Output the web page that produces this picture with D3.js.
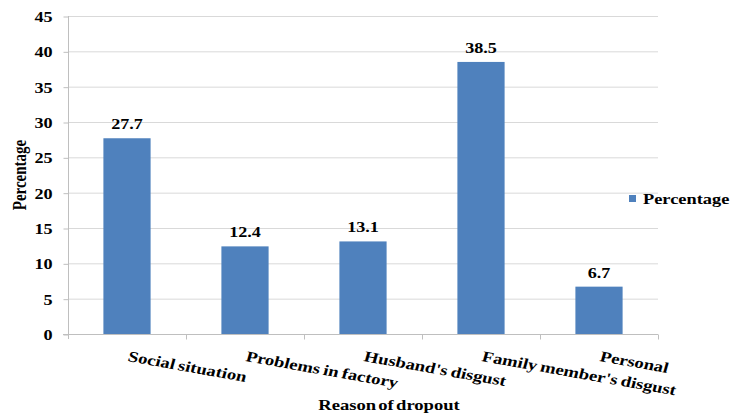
<!DOCTYPE html>
<html>
<head>
<meta charset="utf-8">
<script src="https://cdn.jsdelivr.net/npm/d3@7"></script>
<style>
  html, body { margin: 0; padding: 0; background: #fff; }
  svg { display: block; }
</style>
</head>
<body>
<svg id="chart" width="731" height="414"></svg>
<script>
// Reasons for dropout and their share (%)
const categories = ["Social situation", "Problems in factory", "Husband's disgust", "Family member's disgust", "Personal"];
const percentages = [27.7, 12.4, 13.1, 38.5, 6.7];
const yTicks = [0, 5, 10, 15, 20, 25, 30, 35, 40, 45];
const seriesName = "Percentage";
const xTitle = "Reason of dropout";
const yTitle = "Percentage";

const W = 731, H = 414;
const margin = { left: 68, right: 73, top: 16, bottom: 80 };
const plotW = W - margin.left - margin.right;
const plotH = H - margin.top - margin.bottom;
const barColor = "#4F81BD";
const gridColor = "#D9D9D9";
const axisColor = "#BFBFBF";
const FONT = '"Liberation Serif", "Times New Roman", Tinos, serif';
const SX = 1.25; // wide glyph look

const svg = d3.select("#chart");

function styleText(sel, size) {
  sel.style("font-family", FONT).style("font-weight", "bold")
     .style("font-size", size + "px").style("fill", "#000");
}

const xBand = d3.scaleBand().domain(categories).range([0, plotW]);
const barW = xBand.bandwidth() * 0.4;
const y = d3.scaleLinear().domain([0, 45]).range([plotH, 0]);

const g = svg.append("g").attr("transform", `translate(${margin.left},${margin.top})`);

// Horizontal gridlines
g.append("g").selectAll("line").data(yTicks.filter(d => d > 0)).join("line")
  .attr("x1", 0).attr("x2", plotW)
  .attr("y1", d => y(d) + 0.5).attr("y2", d => y(d) + 0.5)
  .attr("stroke", gridColor).attr("stroke-width", 1);

// Y axis
const yAxis = g.append("g").attr("transform", "translate(0.5,0)")
  .call(d3.axisLeft(y).tickValues(yTicks).tickSize(5).tickPadding(11));
yAxis.select(".domain").attr("stroke", axisColor).attr("d", `M0,${plotH + 5}V0`);
yAxis.selectAll(".tick line").attr("stroke", axisColor).attr("transform", "translate(0,0.5)");
yAxis.selectAll(".tick text")
  .each(function () {
    const t = d3.select(this);
    const tx = +t.attr("x");
    t.attr("x", 0).attr("dy", null).attr("y", 5.5)
     .attr("transform", `translate(${tx},0) scale(${SX},1)`);
  })
  .call(styleText, 14.5);

// X axis baseline with tick marks at category boundaries
const xAxisG = g.append("g").attr("transform", `translate(0,${plotH + 0.5})`);
xAxisG.append("line").attr("x1", -5).attr("x2", plotW).attr("y1", 0).attr("y2", 0)
  .attr("stroke", axisColor);
xAxisG.selectAll(".bt").data(categories).join("line")
  .attr("class", "bt")
  .attr("x1", d => xBand(d) + xBand.bandwidth() + 0.5)
  .attr("x2", d => xBand(d) + xBand.bandwidth() + 0.5)
  .attr("y1", 0).attr("y2", 5).attr("stroke", axisColor);

// Bars
g.selectAll("rect.bar").data(percentages).join("rect")
  .attr("class", "bar")
  .attr("x", (d, i) => xBand(categories[i]) + (xBand.bandwidth() - barW) / 2)
  .attr("width", barW)
  .attr("y", d => y(d))
  .attr("height", d => plotH - y(d))
  .attr("fill", barColor);

// Value labels
g.selectAll("text.val").data(percentages).join("text")
  .attr("class", "val")
  .attr("transform", (d, i) =>
    `translate(${xBand(categories[i]) + xBand.bandwidth() / 2},${y(d) - 9}) scale(${SX},1)`)
  .attr("text-anchor", "middle")
  .call(styleText, 14.5)
  .text(d => d.toFixed(1));

// Category labels, slanted
g.selectAll("text.cat").data(categories).join("text")
  .attr("class", "cat")
  .attr("transform", d =>
    `translate(${xBand(d) + xBand.bandwidth() / 2},${plotH + 27}) scale(${SX},1) rotate(12.5)`)
  .attr("text-anchor", "start")
  .style("word-spacing", "-1px")
  .call(styleText, 15)
  .text(d => d);

// Axis titles
svg.append("text")
  .attr("transform", `translate(389,410) scale(1.2,1)`)
  .attr("text-anchor", "middle")
  .style("word-spacing", "-2px")
  .call(styleText, 15.5)
  .text(xTitle);

svg.append("text")
  .attr("transform", `translate(26,175) scale(${SX},1) rotate(-90)`)
  .attr("text-anchor", "middle")
  .call(styleText, 15)
  .text(yTitle);

// Legend
const lg = svg.append("g").attr("transform", "translate(629,195)");
lg.append("rect").attr("width", 7).attr("height", 7).attr("fill", barColor);
lg.append("text").attr("transform", `translate(14,9) scale(${SX},1)`)
  .call(styleText, 14.7)
  .text(seriesName);
</script>
</body>
</html>
